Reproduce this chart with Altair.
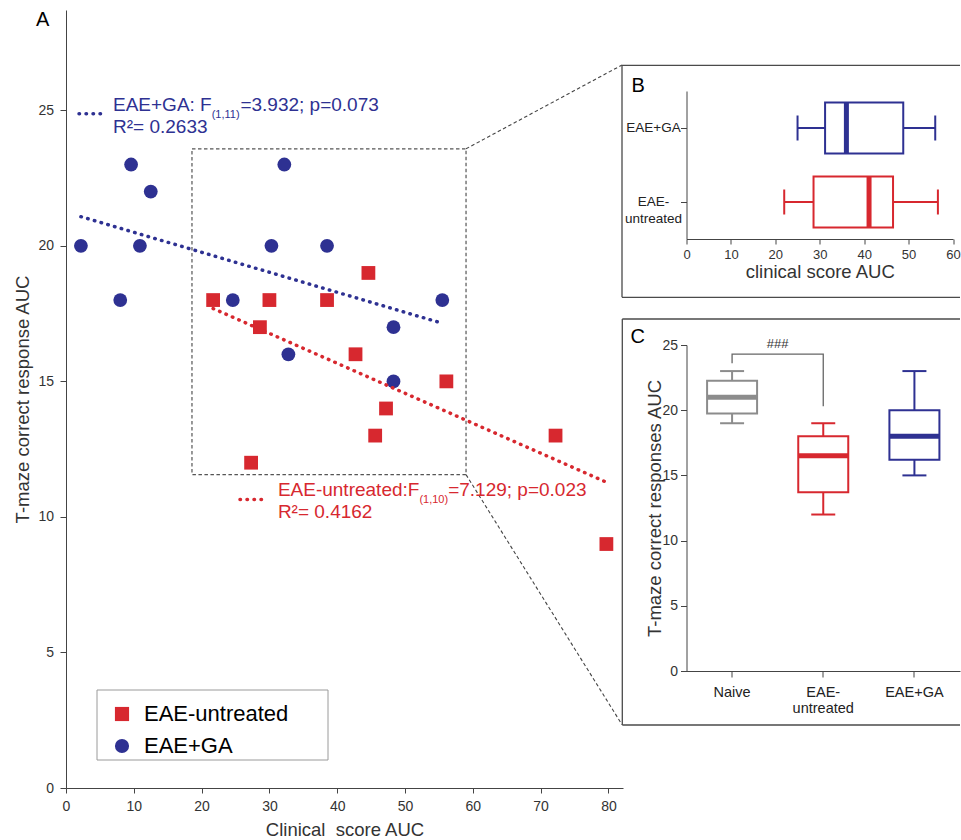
import altair as alt
import pandas as pd

# ---------------- data ----------------
ga_clinical = [2.2, 9.6, 12.5, 10.9, 8.0, 24.6, 32.2, 30.3, 38.5, 55.5, 48.3, 32.8, 48.3]
ga_tmaze = [20, 23, 22, 20, 18, 18, 23, 20, 20, 18, 17, 16, 15]
un_clinical = [21.7, 30.0, 38.5, 28.6, 42.7, 44.6, 56.1, 47.2, 45.6, 27.3, 72.2, 79.7]
un_tmaze = [18, 18, 18, 17, 16, 19, 15, 14, 13, 12, 13, 9]
legend_groups = ["EAE-untreated", "EAE+GA"]

# panel B : clinical score AUC box summaries
b_groups = ["EAE+GA", "EAE-untreated"]
b_low = [25.0, 22.0]
b_q1 = [31.2, 28.6]
b_median = [36.0, 41.1]
b_q3 = [48.8, 46.5]
b_high = [56.0, 56.6]

# panel C : T-maze correct responses AUC box summaries
c_groups = ["Naive", "EAE-untreated", "EAE+GA"]
c_low = [19, 12, 15]
c_q1 = [19.75, 13.7, 16.2]
c_median = [21, 16.5, 18]
c_q3 = [22.25, 18, 20]
c_high = [23, 19, 23]
sig_label = "###"
sig_bracket_low = [23.6, 20.3]
sig_bracket_top = 24.3
sig_text_y = 24.75

# panel A annotations (data units)
ann_groups = ["EAE+GA", "EAE-untreated"]
ann_head = ["EAE+GA: F", "EAE-untreated:F"]
ann_sub = ["(1,11)", "(1,10)"]
ann_stat = ["=3.932; p=0.073", "=7.129; p=0.023"]
ann_r2 = ["R\u00b2= 0.2633", "R\u00b2= 0.4162"]
ann_x = [6.93, 31.25]
ann_sub_x = [21.49, 52.12]
ann_stat_x = [25.72, 56.36]
ann_y = [24.96, 10.76]
key_x1 = [1.92, 25.66]
key_x2 = [5.6, 29.65]
key_y = [24.87, 10.64]

# zoom box and connector lines (data units of panel A)
zoom_x = [18.58, 59.0]
zoom_y = [11.56, 23.58]
conn_y_end = [26.67, 2.34]
conn_x_end = 82.0

# ---------------- styles ----------------
FONT = "Liberation Sans"
BLUE = "#2e3192"
RED = "#d7282f"
GRAY = "#8c8c8c"
AX = "#444444"
LBL = "#333333"
FRAME = "#4a4a4a"
DOT = dict(strokeWidth=3.5, strokeDash=[0.5, 6.5], strokeCap="round")

one = pd.DataFrame({"k": [0]})


def seg(x1, y1, x2, y2, **kw):
    style = dict(color=FRAME, strokeWidth=1.3)
    style.update(kw)
    return alt.Chart(one).mark_rule(**style).encode(
        x=alt.value(x1), y=alt.value(y1), x2=alt.value(x2), y2=alt.value(y2))


def panel_label(t, x, y):
    return alt.Chart(one).mark_text(text=t, fontSize=20, align="left",
                                    baseline="alphabetic", color="black").encode(
        x=alt.value(x), y=alt.value(y))


# ---------------- panel A ----------------
pts = pd.DataFrame({
    "group": ["EAE+GA"] * len(ga_clinical) + ["EAE-untreated"] * len(un_clinical),
    "clinical": ga_clinical + un_clinical,
    "tmaze": ga_tmaze + un_tmaze,
})
xA = alt.Scale(domain=[0, 82.15], nice=False, zero=False)
yA = alt.Scale(domain=[0, 28.7], nice=False, zero=False)
cA = alt.Scale(domain=legend_groups, range=[RED, BLUE])
sA = alt.Scale(domain=legend_groups, range=["square", "circle"])

axA_x = alt.Axis(values=list(range(0, 81, 10)), title="Clinical\u00a0 score AUC",
                 titleFontSize=18.5, titleFontWeight="normal", titleColor=LBL,
                 titleY=47.5, titleBaseline="alphabetic",
                 labelFontSize=14, labelColor=LBL, labelPadding=6, tickSize=5,
                 tickColor=AX, domainColor=AX, grid=False, labelFlush=False,
                 labelOverlap=False)
axA_y = alt.Axis(values=[0, 5, 10, 15, 20, 25], title="T-maze correct response AUC",
                 titleFontSize=18.5, titleFontWeight="normal", titleColor=LBL,
                 titleAngle=270, titleX=-38, titleBaseline="alphabetic",
                 labelFontSize=14, labelColor=LBL, labelPadding=6.5, tickSize=6,
                 tickColor=AX, domainColor=AX, grid=False, labelOverlap=False)

leg = alt.Legend(title=None, orient="none", legendX=31, legendY=685,
                 direction="vertical", padding=8, labelFontSize=22,
                 labelColor="black", symbolSize=200, symbolStrokeWidth=0,
                 symbolOffset=6, labelOffset=11, rowPadding=10, labelLimit=400)


def XA(field):
    return alt.X(f"{field}:Q", scale=xA, axis=axA_x)


def YA(field):
    return alt.Y(f"{field}:Q", scale=yA, axis=axA_y)


points = alt.Chart(pts).mark_point(filled=True, size=190, opacity=1).encode(
    x=XA("clinical"), y=YA("tmaze"),
    color=alt.Color("group:N", scale=cA, legend=leg),
    shape=alt.Shape("group:N", scale=sA, legend=leg),
)

reg = alt.Chart(pts).transform_regression(
    "clinical", "tmaze", groupby=["group"]).mark_line(**DOT).encode(
    x=XA("clinical"), y=YA("tmaze"),
    color=alt.Color("group:N", scale=cA, legend=None),
)

zoom_df = pd.DataFrame({"x1": [zoom_x[0]], "x2": [zoom_x[1]],
                        "y1": [zoom_y[0]], "y2": [zoom_y[1]]})
zoom_rect = alt.Chart(zoom_df).mark_rect(fillOpacity=0, stroke="#555555",
                                         strokeWidth=1.2, strokeDash=[3.5, 2.5]).encode(
    x=XA("x1"), x2="x2:Q", y=YA("y1"), y2="y2:Q")

conn_df = pd.DataFrame({"x1": [zoom_x[1], zoom_x[1]], "y1": [zoom_y[1], zoom_y[0]],
                        "x2": [conn_x_end, conn_x_end], "y2": conn_y_end})
conn = alt.Chart(conn_df).mark_rule(color="#444444", strokeWidth=1.1,
                                    strokeDash=[3.5, 2.5]).encode(
    x=XA("x1"), x2="x2:Q", y=YA("y1"), y2="y2:Q")

ann_df = pd.DataFrame({"group": ann_groups, "head": ann_head, "sub": ann_sub,
                       "stat": ann_stat, "r2": ann_r2, "x": ann_x, "xs": ann_sub_x,
                       "xt": ann_stat_x, "y": ann_y, "k1": key_x1, "k2": key_x2,
                       "ky": key_y})
ann_base = alt.Chart(ann_df)
ann_color = alt.Color("group:N", scale=cA, legend=None)


def ann_text(field, xfield, size, dy):
    return ann_base.mark_text(align="left", baseline="alphabetic", fontSize=size,
                              dy=dy).encode(
        x=XA(xfield), y=YA("y"), text=f"{field}:N", color=ann_color)


keys = ann_base.mark_rule(**DOT).encode(
    x=XA("k1"), x2="k2:Q", y=YA("ky"), color=ann_color)

anchor = alt.Chart(one).mark_rule(stroke="white", strokeOpacity=0, strokeWidth=1).encode(
    x=alt.value(-65.5), y=alt.value(-9.5), x2=alt.value(-65.5), y2=alt.value(-9.5))

legend_box = alt.Chart(one).mark_rect(fill="white", stroke="#9a9a9a", strokeWidth=1).encode(
    x=alt.value(31), x2=alt.value(262), y=alt.value(680), y2=alt.value(750))

A = alt.layer(
    anchor, zoom_rect, conn, legend_box, points, reg, keys,
    ann_text("head", "x", 19, 0), ann_text("sub", "xs", 11, 7),
    ann_text("stat", "xt", 19, 0), ann_text("r2", "x", 19, 22),
    panel_label("A", -30, 15.7),
).properties(width=557, height=778)

# ---------------- panel B ----------------
b_df = pd.DataFrame({"group": b_groups, "lo": b_low, "q1": b_q1, "med": b_median,
                     "q3": b_q3, "hi": b_high, "col": [BLUE, RED]})
xB = alt.Scale(domain=[0, 60], range=[0, 266.5], nice=False, zero=False)
yB = alt.Scale(domain=b_groups, range=[81, 229], paddingInner=0, paddingOuter=0)
axB_x = alt.Axis(values=list(range(0, 61, 10)), title="clinical score AUC",
                 titleFontSize=18.5, titleFontWeight="normal", titleColor=LBL,
                 titleY=38.5, titleBaseline="alphabetic", labelFontSize=13,
                 labelColor=LBL, labelPadding=4, tickSize=5, tickColor=AX,
                 domainColor=AX, grid=False, labelFlush=False, labelOverlap=False)
axB_y = alt.Axis(title=None, labelAlign="center", labelBaseline="middle",
                 labelPadding=27.5, tickSize=6, labelFontSize=13.5, labelColor="#222222",
                 labelLineHeight=17, tickColor=AX, domainColor=AX, grid=False,
                 labelOverlap=False,
                 labelExpr="datum.value == 'EAE-untreated' ? ['EAE-', 'untreated'] : datum.value")


def XB(field):
    return alt.X(f"{field}:Q", scale=xB, axis=axB_x)


bb = alt.Chart(b_df)
b_y = alt.Y("group:N", scale=yB, axis=axB_y, sort=b_groups)
b_col = alt.Color("col:N", scale=None)
b_whisk1 = bb.mark_rule(strokeWidth=2).encode(x=XB("lo"), x2="q1:Q", y=b_y, color=b_col)
b_whisk2 = bb.mark_rule(strokeWidth=2).encode(x=XB("q3"), x2="hi:Q", y=b_y, color=b_col)
b_box = bb.mark_bar(fill="white", strokeWidth=2, size=51, opacity=1).encode(
    x=XB("q1"), x2="q3:Q", y=b_y, stroke=alt.Stroke("col:N", scale=None))
b_med = bb.mark_tick(thickness=5, size=51, opacity=1).encode(x=XB("med"), y=b_y, color=b_col)
b_cap1 = bb.mark_tick(thickness=2, size=25, opacity=1).encode(x=XB("lo"), y=b_y, color=b_col)
b_cap2 = bb.mark_tick(thickness=2, size=25, opacity=1).encode(x=XB("hi"), y=b_y, color=b_col)

B = alt.layer(
    seg(-64.5, 55.3, 273.5, 55.3), seg(-64.5, 55.3, -64.5, 287.3),
    seg(-64.5, 287.3, 273.5, 287.3),
    panel_label("B", -55, 82.3),
    b_whisk1, b_whisk2, b_box, b_med, b_cap1, b_cap2,
).properties(width=274, height=229)

# ---------------- panel C ----------------
c_df = pd.DataFrame({"group": c_groups, "lo": c_low, "q1": c_q1, "med": c_median,
                     "q3": c_q3, "hi": c_high, "col": [GRAY, RED, BLUE]})
xC = alt.Scale(domain=c_groups, range=[0, 273.5], paddingInner=0, paddingOuter=0)
yC = alt.Scale(domain=[0, 25], range=[432, 106], nice=False, zero=False)
axC_x = alt.Axis(title=None, labelFontSize=14.5, labelColor="#222222", labelPadding=8,
                 tickSize=6, tickColor=AX, domainColor=AX, labelLineHeight=16,
                 labelAngle=0, labelOverlap=False, grid=False,
                 labelExpr="datum.value == 'EAE-untreated' ? ['EAE-', 'untreated'] : datum.value")
axC_y = alt.Axis(values=[0, 5, 10, 15, 20, 25], title="T-maze correct responses AUC",
                 titleFontSize=18.5, titleFontWeight="normal", titleColor=LBL,
                 titleAngle=270, titleX=-26.5, titleBaseline="alphabetic",
                 labelFontSize=14, labelColor=LBL, labelPadding=3, tickSize=6,
                 tickColor=AX, domainColor=AX, grid=False, labelOverlap=False)


def YC(field):
    return alt.Y(f"{field}:Q", scale=yC, axis=axC_y)


cc = alt.Chart(c_df)
c_x = alt.X("group:N", scale=xC, axis=axC_x, sort=c_groups)
c_col = alt.Color("col:N", scale=None)
c_whisk1 = cc.mark_rule(strokeWidth=2).encode(x=c_x, y=YC("lo"), y2="q1:Q", color=c_col)
c_whisk2 = cc.mark_rule(strokeWidth=2).encode(x=c_x, y=YC("q3"), y2="hi:Q", color=c_col)
c_box = cc.mark_bar(fill="white", strokeWidth=2, size=50, opacity=1).encode(
    x=c_x, y=YC("q1"), y2="q3:Q", stroke=alt.Stroke("col:N", scale=None))
c_med = cc.mark_tick(thickness=5, size=50, opacity=1).encode(x=c_x, y=YC("med"), color=c_col)
c_cap1 = cc.mark_tick(thickness=2, size=24, opacity=1).encode(x=c_x, y=YC("lo"), color=c_col)
c_cap2 = cc.mark_tick(thickness=2, size=24, opacity=1).encode(x=c_x, y=YC("hi"), color=c_col)

br_df = pd.DataFrame({
    "group": [c_groups[0], c_groups[0], c_groups[1], c_groups[1]],
    "y": [sig_bracket_low[0], sig_bracket_top, sig_bracket_top, sig_bracket_low[1]],
    "o": [0, 1, 2, 3]})
bracket = alt.Chart(br_df).mark_line(color="#666666", strokeWidth=1.3).encode(
    x=c_x, y=YC("y"), order="o:Q")
sig_df = pd.DataFrame({"group": [c_groups[0]], "y": [sig_text_y], "t": [sig_label]})
sig = alt.Chart(sig_df).mark_text(fontSize=13, dx=45.6, baseline="alphabetic",
                                  color="#333333").encode(
    x=c_x, y=YC("y"), text="t:N")

C = alt.layer(
    seg(-64.2, 80, 273.5, 80), seg(-64.2, 80, -64.2, 486), seg(-64.2, 486, 273.5, 486),
    panel_label("C", -56, 104.3),
    c_whisk1, c_whisk2, c_box, c_med, c_cap1, c_cap2, bracket, sig,
).properties(width=273.5, height=432)

right = alt.vconcat(B, C, spacing=0, bounds="flush")
chart = alt.hconcat(A, right, spacing=63.5, bounds="flush").properties(
    padding={"left": 0, "top": 0, "right": 0, "bottom": 0}
).configure(font=FONT).configure_view(stroke=None).configure_axis(
    labelFont=FONT, titleFont=FONT).configure_legend(labelFont=FONT).configure_text(font=FONT)

chart.save("out.html", embed_options={"renderer": "svg", "actions": False})
